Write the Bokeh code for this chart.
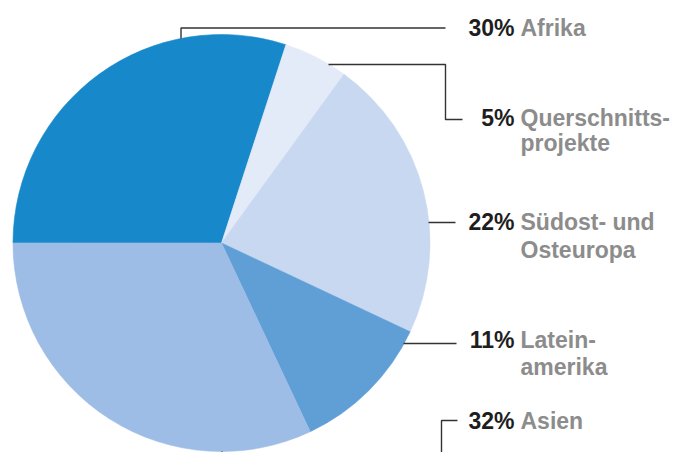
import math
from bokeh.plotting import figure
from bokeh.models import Range1d, ColumnDataSource
from bokeh.core.properties import value
from bokeh.embed import file_html
from bokeh.resources import INLINE

# ---- data ----
regions = ["Afrika", "Querschnitts-\nprojekte", "Südost- und\nOsteuropa", "Latein-\namerika", "Asien"]
shares = [30, 5, 22, 11, 32]
pct_labels = ["30%", "5%", "22%", "11%", "32%"]
colors = ["#1789cb", "#e3eaf8", "#c9d8f1", "#5f9fd6", "#9dbde6"]

W, H = 673, 452
p = figure(width=W, height=H, output_backend="svg", toolbar_location=None,
           x_range=Range1d(0, W), y_range=Range1d(460 - H, 460),
           min_border=0, outline_line_color=None)
p.axis.visible = False
p.grid.visible = False
p.background_fill_color = "white"
p.border_fill_color = "white"

def Y(py):
    # image pixel y -> data y
    return 460 - py

cx, cy, r = 221, Y(242.5), 208.5

# wedges (clockwise, starting at 9 o'clock)
total = sum(shares)
starts, ends = [], []
a = math.pi
for s in shares:
    starts.append(a)
    a = a - s / total * 2 * math.pi
    ends.append(a)
src = ColumnDataSource(dict(start=starts, end=ends, color=colors))
p.wedge(x=cx, y=cy, radius=r, start_angle="start", end_angle="end", direction="clock",
        fill_color="color", line_color="color", line_width=0.6, source=src)

# leader lines (image coordinates)
leaders = [
    [(180.5, 38), (180.5, 27.5), (445, 27.5)],
    [(328, 64), (445, 64), (445, 119), (462, 119)],
    [(428, 222), (455, 222)],
    [(403, 343), (456, 343)],
    [(221.5, 451), (221.5, 475), (441, 475), (441, 420), (457, 420)],
]
for pts in leaders:
    p.line([q[0] for q in pts], [Y(q[1]) for q in pts], line_color="#333333", line_width=1.4)

# labels
baselines = [[36], [126, 151], [230, 258], [348, 375], [429]]
shift = 9  # compensate renderer baseline offset
font = value("Liberation Sans")
for pct, name, bl in zip(pct_labels, regions, baselines):
    p.text(x=[514], y=[Y(bl[0] - shift)], text=[pct], text_font=font, text_font_style="bold",
           text_font_size="23px", text_color="#1e1e1e", text_align="right",
           text_baseline="alphabetic")
    for line, b in zip(name.split("\n"), bl):
        p.text(x=[520], y=[Y(b - shift)], text=[line], text_font=font, text_font_style="bold",
               text_font_size="23px", text_color="#8c8c8c", text_align="left",
               text_baseline="alphabetic")

open("out.html", "w").write(file_html(p, INLINE))
